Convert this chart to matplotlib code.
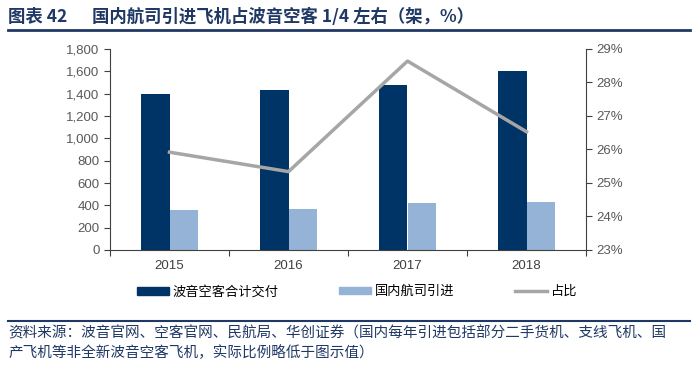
import matplotlib
matplotlib.use("Agg")
import matplotlib.pyplot as plt
import numpy as np
from matplotlib.lines import Line2D
from matplotlib.patches import Patch

plt.rcParams['font.family'] = ['Liberation Sans', 'Noto Sans CJK SC', 'DejaVu Sans']

years = ['2015', '2016', '2017', '2018']
deliveries = [1397, 1436, 1481, 1606]
imports = [362, 364, 424, 426]
ratio = [25.92, 25.34, 28.64, 26.53]
left_ticks = [0, 200, 400, 600, 800, 1000, 1200, 1400, 1600, 1800]
right_ticks = [23, 24, 25, 26, 27, 28, 29]

W, H = 700, 376
fig = plt.figure(figsize=(W/100, H/100), dpi=100)
ax = fig.add_axes([110/W, 1-250/H, 476/W, 201/H])

x = np.arange(len(years))
bw = 0.24
c_dark = '#003366'
c_light = '#95B3D7'
c_line = '#A6A6A6'
ax.bar(x - bw/2, deliveries, width=bw, color=c_dark, zorder=2)
ax.bar(x + bw/2, imports, width=bw, color=c_light, zorder=2)
ax.set_xlim(-0.5, len(years) - 0.5)
ax.set_ylim(0, 1800)
ax.set_yticks(left_ticks)
ax.set_yticklabels([f'{v:,}' for v in left_ticks])
ax.set_xticks(np.arange(-0.5, len(years), 1))
ax.set_xticklabels([])
ax.set_xticks(x, minor=True)
ax.set_xticklabels(years, minor=True)
ax.tick_params(axis='x', which='major', length=4, color='#404040')
ax.tick_params(axis='x', which='minor', length=0, pad=7, labelsize=9.5, labelcolor='#404040')
ax.tick_params(axis='y', length=4, labelsize=9.5, labelcolor='#595959', color='#404040')
for s in ['top', 'right']:
    ax.spines[s].set_visible(False)
ax.spines['left'].set_color('#404040')
ax.spines['bottom'].set_color('#404040')

ax2 = ax.twinx()
ax2.plot(x, ratio, color=c_line, lw=2.5, zorder=3)
ax2.set_ylim(23, 29)
ax2.set_yticks(right_ticks)
ax2.set_yticklabels([f'{v}%' for v in right_ticks])
ax2.tick_params(axis='y', length=4, labelsize=9.5, labelcolor='#595959', color='#404040')
for s in ['top', 'left', 'bottom']:
    ax2.spines[s].set_visible(False)
ax2.spines['right'].set_color('#404040')

# legends
lk = dict(frameon=False, fontsize=9.5, handlelength=2.4, handletextpad=0.3,
          borderpad=0, borderaxespad=0, loc='center left')
fig.legend(handles=[Patch(color=c_dark)], labels=['波音空客合计交付'],
           bbox_to_anchor=(137/W, 1-292/H), handleheight=0.5, **lk)
fig.legend(handles=[Patch(color=c_light)], labels=['国内航司引进'],
           bbox_to_anchor=(339/W, 1-292/H), handleheight=0.5, **lk)
fig.legend(handles=[Line2D([], [], color=c_line, lw=2.5)], labels=['占比'],
           bbox_to_anchor=(515/W, 1-292/H), **lk)

navy = '#1F3864'
cjk = ['Noto Sans CJK SC', 'DejaVu Sans']
fig.text(8/W, 1-17/H, '图表 42', fontsize=12.5, fontweight='bold', color=navy,
         va='center', ha='left', family=cjk)
fig.text(92/W, 1-17/H, '国内航司引进飞机占波音空客 1/4 左右（架，%）',
         fontsize=12.5, fontweight='bold', color=navy, va='center', ha='left',
         family=cjk)
fig.add_artist(Line2D([8/W, 690/W], [1-30/H, 1-30/H], color=navy, lw=2))
fig.add_artist(Line2D([8/W, 690/W], [1-321/H, 1-321/H], color=navy, lw=1.5))
fig.text(8/W, 1-333/H, '资料来源：波音官网、空客官网、民航局、华创证券（国内每年引进包括部分二手货机、支线飞机、国',
         fontsize=10.5, color=navy, va='center', ha='left', style='italic',
         family=cjk)
fig.text(8/W, 1-353/H, '产飞机等非全新波音空客飞机，实际比例略低于图示值）',
         fontsize=10.5, color=navy, va='center', ha='left', style='italic',
         family=cjk)

fig.savefig('out.png', dpi=100)
